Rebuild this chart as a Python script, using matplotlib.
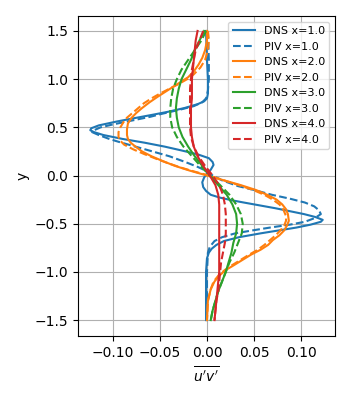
import matplotlib
matplotlib.use('Agg')
import matplotlib.pyplot as plt

# Profily Reynoldsova napětí u'v' v závislosti na y
y_dns1 = [1.50, 1.20, 1.00, 0.85, 0.80, 0.77, 0.74, 0.70, 0.66, 0.63, 0.59, 0.56, 0.52, 0.49, 0.47,
          0.45, 0.42, 0.38, 0.34, 0.30, 0.26, 0.22, 0.18, 0.14, 0.11, 0.06, 0.02, -0.02, -0.07,
          -0.12, -0.16, -0.20, -0.23, -0.26, -0.28, -0.31, -0.34, -0.37, -0.40, -0.43, -0.46,
          -0.48, -0.51, -0.54, -0.57, -0.60, -0.64, -0.68, -0.72, -0.76, -0.80, -0.86, -1.00,
          -1.50]
uv_dns1 = [-0.001, 0.000, 0.001, 0.001, 0.000, -0.003, -0.010, -0.024, -0.042, -0.058, -0.080,
           -0.096, -0.115, -0.123, -0.124, -0.120, -0.110, -0.090, -0.066, -0.045, -0.027, -0.010,
           0.002, 0.006, 0.007, 0.004, 0.000, -0.003, -0.005, -0.004, -0.001, 0.004, 0.014, 0.028,
           0.039, 0.056, 0.073, 0.088, 0.103, 0.115, 0.123, 0.121, 0.110, 0.095, 0.076, 0.057,
           0.034, 0.018, 0.010, 0.005, 0.002, 0.000, -0.001, -0.001]

y_piv1 = [1.50, 1.20, 1.00, 0.88, 0.80, 0.76, 0.72, 0.68, 0.64, 0.61, 0.57, 0.53, 0.50, 0.47, 0.45,
          0.42, 0.38, 0.35, 0.30, 0.25, 0.20, 0.14, 0.09, 0.04, 0.00, -0.05, -0.11, -0.15, -0.20,
          -0.24, -0.28, -0.32, -0.36, -0.40, -0.44, -0.48, -0.51, -0.54, -0.57, -0.60, -0.64,
          -0.68, -0.74, -0.80, -1.00, -1.50]
uv_piv1 = [0.001, 0.002, 0.002, 0.001, -0.001, -0.005, -0.014, -0.030, -0.048, -0.060, -0.080,
           -0.100, -0.113, -0.120, -0.122, -0.115, -0.104, -0.094, -0.076, -0.058, -0.040, -0.023,
           -0.010, 0.001, 0.006, 0.016, 0.033, 0.050, 0.069, 0.088, 0.104, 0.114, 0.119, 0.121,
           0.115, 0.104, 0.088, 0.067, 0.048, 0.030, 0.016, 0.008, 0.003, 0.001, 0.000, 0.000]

y_dns2 = [1.50, 1.40, 1.30, 1.22, 1.15, 1.08, 1.02, 0.97, 0.92, 0.87, 0.82, 0.76, 0.70, 0.65, 0.60,
          0.54, 0.48, 0.42, 0.38, 0.34, 0.30, 0.25, 0.20, 0.15, 0.10, 0.05, 0.00, -0.05, -0.10,
          -0.15, -0.20, -0.25, -0.30, -0.35, -0.40, -0.47, -0.52, -0.57, -0.62, -0.67, -0.72,
          -0.77, -0.82, -0.88, -0.94, -0.98, -1.04, -1.10, -1.18, -1.30, -1.50]
uv_dns2 = [0.000, 0.000, -0.002, -0.005, -0.009, -0.014, -0.020, -0.028, -0.036, -0.044, -0.052,
           -0.061, -0.069, -0.075, -0.080, -0.084, -0.085, -0.085, -0.084, -0.081, -0.076, -0.069,
           -0.059, -0.047, -0.034, -0.018, 0.000, 0.018, 0.036, 0.052, 0.064, 0.074, 0.080, 0.084,
           0.086, 0.087, 0.085, 0.082, 0.077, 0.070, 0.065, 0.057, 0.047, 0.037, 0.027, 0.020,
           0.013, 0.008, 0.004, 0.001, 0.000]

y_piv2 = [1.50, 1.40, 1.30, 1.20, 1.12, 1.05, 1.00, 0.95, 0.90, 0.85, 0.80, 0.75, 0.70, 0.65, 0.60,
          0.55, 0.50, 0.45, 0.40, 0.36, 0.32, 0.27, 0.22, 0.17, 0.13, 0.08, 0.04, 0.00, -0.05,
          -0.10, -0.15, -0.20, -0.25, -0.30, -0.35, -0.42, -0.47, -0.52, -0.57, -0.62, -0.67,
          -0.72, -0.77, -0.82, -0.88, -0.94, -0.98, -1.04, -1.10, -1.18, -1.30, -1.50]
uv_piv2 = [0.001, 0.002, 0.001, -0.002, -0.007, -0.014, -0.021, -0.030, -0.040, -0.050, -0.059,
           -0.067, -0.073, -0.079, -0.085, -0.089, -0.092, -0.094, -0.094, -0.092, -0.088, -0.078,
           -0.066, -0.053, -0.042, -0.027, -0.013, 0.002, 0.018, 0.034, 0.049, 0.061, 0.070, 0.077,
           0.081, 0.084, 0.084, 0.082, 0.078, 0.073, 0.067, 0.061, 0.054, 0.045, 0.035, 0.025,
           0.019, 0.012, 0.007, 0.004, 0.001, 0.000]

y_prof = [1.50, 1.40, 1.30, 1.20, 1.10, 1.00, 0.90, 0.80, 0.70, 0.60, 0.50, 0.40, 0.30, 0.20, 0.10,
          0.00, -0.10, -0.20, -0.30, -0.40, -0.50, -0.60, -0.70, -0.80, -0.90, -1.00, -1.10,
          -1.20, -1.30, -1.40, -1.50]
uv_dns3 = [-0.003, -0.008, -0.013, -0.017, -0.022, -0.027, -0.030, -0.032, -0.033, -0.032, -0.030,
           -0.026, -0.020, -0.013, -0.005, 0.003, 0.012, 0.021, 0.027, 0.031, 0.032, 0.031, 0.028,
           0.026, 0.023, 0.020, 0.016, 0.012, 0.009, 0.006, 0.004]
uv_piv3 = [-0.001, -0.006, -0.013, -0.020, -0.027, -0.032, -0.036, -0.038, -0.039, -0.039, -0.037,
           -0.032, -0.025, -0.016, -0.007, 0.003, 0.014, 0.024, 0.031, 0.036, 0.038, 0.037, 0.033,
           0.029, 0.024, 0.020, 0.016, 0.012, 0.009, 0.006, 0.004]
uv_dns4 = [-0.010, -0.012, -0.013, -0.014, -0.015, -0.016, -0.016, -0.016, -0.017, -0.017, -0.017,
           -0.016, -0.014, -0.010, -0.004, 0.003, 0.009, 0.012, 0.013, 0.013, 0.013, 0.013, 0.013,
           0.013, 0.013, 0.013, 0.012, 0.011, 0.010, 0.009, 0.008]
uv_piv4 = [-0.004, -0.008, -0.012, -0.014, -0.016, -0.017, -0.018, -0.018, -0.018, -0.018, -0.018,
           -0.017, -0.014, -0.009, -0.002, 0.006, 0.013, 0.017, 0.019, 0.020, 0.020, 0.020, 0.019,
           0.017, 0.015, 0.014, 0.013, 0.012, 0.010, 0.009, 0.008]

fig, ax = plt.subplots(figsize=(3.5, 4), dpi=100)
fig.subplots_adjust(left=0.223, right=0.957, top=0.96, bottom=0.16)

ax.plot(uv_dns1, y_dns1, '-', color='C0', label='DNS x=1.0')
ax.plot(uv_piv1, y_piv1, '--', color='C0', label='PIV x=1.0')
ax.plot(uv_dns2, y_dns2, '-', color='C1', label='DNS x=2.0')
ax.plot(uv_piv2, y_piv2, '--', color='C1', label='PIV x=2.0')
ax.plot(uv_dns3, y_prof, '-', color='C2', label='DNS x=3.0')
ax.plot(uv_piv3, y_prof, '--', color='C2', label='PIV x=3.0')
ax.plot(uv_dns4, y_prof, '-', color='C3', label='DNS x=4.0')
ax.plot(uv_piv4, y_prof, '--', color='C3', label='PIV x=4.0')

ax.set_xlim(-0.137, 0.136)
ax.set_ylim(-1.665, 1.655)
ax.set_xticks([-0.10, -0.05, 0.00, 0.05, 0.10])
ax.set_xlabel(r"$\overline{u'v'}$")
ax.set_ylabel('y')
ax.legend(loc='upper right', fontsize=8)
ax.grid(True)

fig.savefig('out.png')
